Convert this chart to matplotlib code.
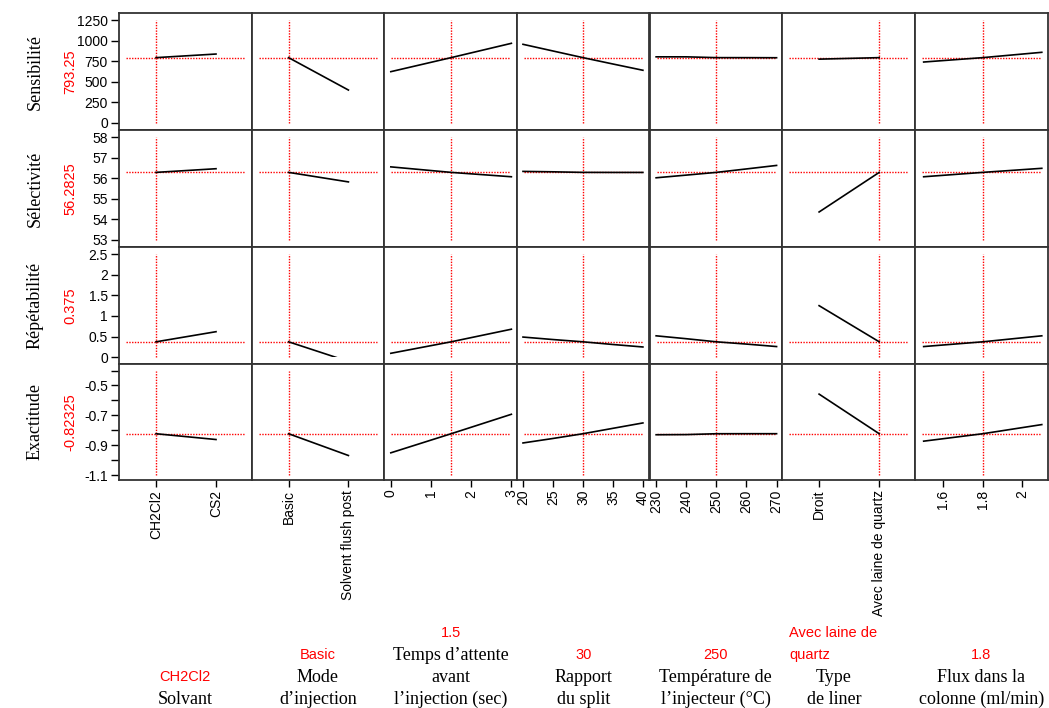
import matplotlib

matplotlib.use("Agg")

import matplotlib.pyplot as plt
import numpy as np
from matplotlib.patches import Rectangle

SANS = "Liberation Sans"
SERIF = "Liberation Serif"
RED = "#ff0000"

responses = ["Sensibilité", "Sélectivité", "Répétabilité", "Exactitude"]
response_now = [793.25, 56.2825, 0.375, -0.82325]
response_now_txt = ["793.25", "56.2825", "0.375", "-0.82325"]

factor_names = ["Solvant", "Mode\nd’injection", "Temps d’attente\navant\nl’injection (sec)",
                "Rapport\ndu split", "Température de\nl’injecteur (°C)", "Type\nde liner",
                "Flux dans la\ncolonne (ml/min)"]
factor_now_txt = ["CH2Cl2", "Basic", "1.5", "30", "250", "Avec laine de\nquartz", "1.8"]

solvant_levels = ["CH2Cl2", "CS2"]
mode_levels = ["Basic", "Solvent flush post"]
liner_levels = ["Droit", "Avec laine de quartz"]
temps_x = [0, 1.5, 3]
split_x = [20, 25, 30, 35, 40]
temp_x = [230, 240, 250, 260, 270]
flux_x = [1.5, 1.8, 2.1]

# current factor settings (x of the red vertical line)
factor_now = [0, 0, 1.5, 30, 250, 1, 1.8]

sens = {
    "solvant": [793.25, 837], "mode": [793.25, 400],
    "temps": [623, 793.25, 967], "split": [955, 874, 793.25, 716, 640],
    "temp": [803, 803, 793.25, 793, 792], "liner": [775, 793.25],
    "flux": [740, 793.25, 858],
}
selec = {
    "solvant": [56.2825, 56.46], "mode": [56.2825, 55.82],
    "temps": [56.55, 56.2825, 56.07], "split": [56.33, 56.31, 56.2825, 56.28, 56.28],
    "temp": [56.02, 56.15, 56.2825, 56.45, 56.62], "liner": [54.36, 56.2825],
    "flux": [56.07, 56.2825, 56.48],
}
repet = {
    "solvant": [0.375, 0.62], "mode": [0.375, -0.10],
    "temps": [0.097, 0.375, 0.68], "split": [0.49, 0.43, 0.375, 0.31, 0.25],
    "temp": [0.52, 0.45, 0.375, 0.32, 0.26], "liner": [1.25, 0.375],
    "flux": [0.26, 0.375, 0.52],
}
exact = {
    "solvant": [-0.82325, -0.862], "mode": [-0.82325, -0.969],
    "temps": [-0.951, -0.82325, -0.693], "split": [-0.885, -0.855, -0.82325, -0.787, -0.751],
    "temp": [-0.83, -0.829, -0.82325, -0.823, -0.823], "liner": [-0.558, -0.82325],
    "flux": [-0.873, -0.82325, -0.762],
}
curves = [sens, selec, repet, exact]

col_keys = ["solvant", "mode", "temps", "split", "temp", "liner", "flux"]
col_x = [[0, 1], [0, 1], temps_x, split_x, temp_x, [0, 1], flux_x]
col_ticks = [[0, 1], [0, 1], [0, 1, 2, 3], [20, 25, 30, 35, 40],
             [230, 240, 250, 260, 270], [0, 1], [1.6, 1.8, 2.0]]
col_ticklabels = [solvant_levels, mode_levels, ["0", "1", "2", "3"],
                  ["20", "25", "30", "35", "40"], ["230", "240", "250", "260", "270"],
                  liner_levels, ["1.6", "1.8", "2"]]
col_xlim = [(-0.617, 1.595), (-0.617, 1.595), (-0.17, 3.14), (19.0, 41.1),
            (227.8, 271.8), (-0.617, 1.595), (1.456, 2.129)]

row_ticks = [[0, 250, 500, 750, 1000, 1250], [53, 54, 55, 56, 57, 58],
             [0, 0.5, 1, 1.5, 2, 2.5], [-1.1, -1.0, -0.9, -0.8, -0.7, -0.6, -0.5, -0.4]]
row_ticklabels = [["0", "250", "500", "750", "1000", "1250"],
                  ["53", "54", "55", "56", "57", "58"],
                  ["0", "0.5", "1", "1.5", "2", "2.5"],
                  ["-1.1", "", "-0.9", "", "-0.7", "", "-0.5", ""]]
row_ylim = [(-85, 1335), (52.66, 58.34), (-0.15, 2.67), (-1.133, -0.353)]

# ---- layout (pixels) ------------------------------------------------------
W, H = 1049, 708
col_edges = [119, 251.7, 384, 517, 649.5, 782, 915, 1047.5]
row_edges = [13, 130, 247, 363.5, 480]

fig = plt.figure(figsize=(W / 100, H / 100), dpi=100)


def px_box(x0, x1, y0, y1):
    return [x0 / W, 1 - y1 / H, (x1 - x0) / W, (y1 - y0) / H]


for r in range(4):
    for c in range(7):
        ax = fig.add_axes(px_box(col_edges[c], col_edges[c + 1], row_edges[r], row_edges[r + 1]))
        ax.set_xlim(col_xlim[c])
        ax.set_ylim(row_ylim[r])
        for sp in ax.spines.values():
            sp.set_color("#333333")
            sp.set_linewidth(1.3)

        ylo, yhi = row_ticks[r][0], row_ticks[r][-1]
        ax.plot([factor_now[c]] * 2, [ylo, yhi], color=RED, lw=1.0,
                linestyle=(0, (1, 1)), zorder=2)
        ax.axhline(response_now[r], xmin=0.055, xmax=0.95, color=RED, lw=1.0,
                   linestyle=(0, (1, 1)), zorder=2)

        # JMP clips the trace to the tick range of the response
        line, = ax.plot(col_x[c], curves[r][col_keys[c]], color="black", lw=1.2, zorder=3)
        clip = Rectangle((col_xlim[c][0], ylo), col_xlim[c][1] - col_xlim[c][0], yhi - ylo,
                         transform=ax.transData, facecolor="none", edgecolor="none")
        line.set_clip_path(clip)

        if c == 0:
            ax.set_yticks(row_ticks[r])
            ax.set_yticklabels(row_ticklabels[r], fontfamily=SANS, fontsize=10)
            ax.tick_params(axis="y", direction="out", length=6, width=1, pad=2)
        else:
            ax.set_yticks([])
        if r == 3:
            ax.set_xticks(col_ticks[c])
            ax.set_xticklabels(col_ticklabels[c], fontfamily=SANS, fontsize=10,
                               rotation=90)
            ax.tick_params(axis="x", direction="out", length=5, width=1, pad=2)
        else:
            ax.set_xticks([])

# response labels on the left
for r in range(4):
    yc = 1 - (row_edges[r] + row_edges[r + 1]) / 2 / H
    fig.text(35 / W, yc, responses[r], rotation=90, ha="center", va="center",
             fontfamily=SERIF, fontsize=13)
    fig.text(70 / W, yc, response_now_txt[r], rotation=90, ha="center", va="center",
             fontfamily=SANS, fontsize=10.5, color=RED)

# factor labels at the bottom: red current value above the factor name
line_h = 22
last_y = 699
for c in range(7):
    xc = (col_edges[c] + col_edges[c + 1]) / 2
    name_lines = factor_names[c].split("\n")
    red_lines = factor_now_txt[c].split("\n")
    name_x = xc
    red_x, red_ha = xc, "center"
    if c == 5:
        name_x = 834
        red_x, red_ha = 789, "left"
    n = len(name_lines)
    for i, s in enumerate(name_lines):
        y = last_y - (n - 1 - i) * line_h
        fig.text(name_x / W, 1 - y / H, s, ha="center", va="center",
                 fontfamily=SERIF, fontsize=13)
    m = len(red_lines)
    for i, s in enumerate(red_lines):
        y = last_y - (n + m - 1 - i) * line_h
        fig.text(red_x / W, 1 - y / H, s, ha=red_ha, va="center",
                 fontfamily=SANS, fontsize=10.5, color=RED)

fig.savefig("out.png", dpi=100)
